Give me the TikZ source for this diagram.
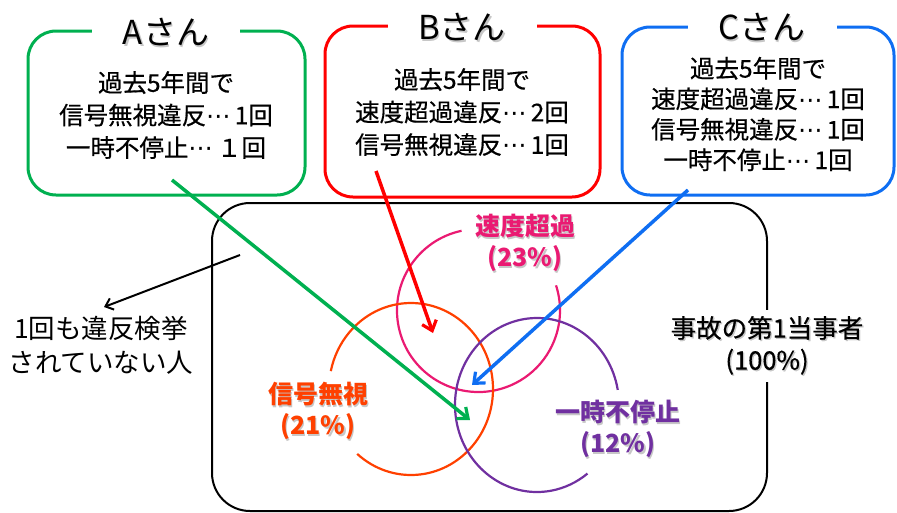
\documentclass[tikz,border=0pt]{standalone}
\usepackage{fontspec}
\setmainfont{Noto Sans CJK JP}
\newfontfamily\dvfont{DejaVu Sans}
\newfontfamily\jpm{Noto Sans CJK JP}[FakeBold=0.5]
\usetikzlibrary{arrows.meta,calc}
\definecolor{cgreen}{HTML}{00B050}
\definecolor{cred}{HTML}{FF0000}
\definecolor{cblue}{HTML}{0F6EF2}
\definecolor{cpink}{HTML}{EA1A72}
\definecolor{corange}{HTML}{FF4000}
\definecolor{cpurple}{HTML}{7030A0}
\newcommand\shd[1]{\leavevmode\rlap{\kern1.3pt\raisebox{-1.3pt}{\textcolor{black!22}{#1}}}#1}
\newcommand\dts{{\dvfont ⋯}}
\tikzset{
  pbox/.style={draw, line width=3pt, rounded corners=28pt},
  ptitle/.style={fill=white, inner sep=0pt, minimum height=14pt, font=\fontsize{33pt}{36pt}\selectfont},
  btext/.style={align=center, inner sep=0pt, font=\jpm\fontsize{24.5pt}{32.5pt}\selectfont},
  vlab/.style={align=center, inner sep=0pt, font=\bfseries\fontsize{25pt}{31pt}\selectfont},
  venn/.style={line width=2.2pt},
  arr/.style={line width=3.5pt, -{Straight Barb[length=9pt,width=15pt,line width=3.2pt]}},
}
\begin{document}
\begin{tikzpicture}[x=1pt,y=-1pt]
\useasboundingbox (0,0) rectangle (897,512);
% big frame
\node[draw, line width=2pt, rounded corners=38pt, minimum width=555pt, minimum height=308pt] (all) at (489.5,357) {};
\node[fill=white, align=center, inner sep=6pt, font=\jpm\fontsize{25.5pt}{32pt}\selectfont] (lab100) at (767,346) {\shd{事故の第1当事者}\\\shd{(100\%)}};
% person boxes
\node[pbox, draw=cgreen, minimum width=277pt, minimum height=164pt] (boxA) at (166.5,113) {};
\node[pbox, draw=cred, minimum width=275pt, minimum height=171pt] (boxB) at (462.5,111.5) {};
\node[pbox, draw=cblue, minimum width=272pt, minimum height=168pt] (boxC) at (758,111) {};
\node[ptitle, minimum width=148pt] (tA) at (166,33) {\shd{Aさん}};
\node[ptitle, minimum width=149pt] (tB) at (462,28) {\shd{Bさん}};
\node[ptitle, minimum width=149pt] (tC) at (762,28) {\shd{Cさん}};
\node[btext] (txA) at (166,115) {過去5年間で\\信号無視違反\dts\,1回\\一時不停止\dts\,１回};
\node[btext] (txB) at (462,112) {過去5年間で\\速度超過違反\dts\,2回\\信号無視違反\dts\,1回};
\node[btext, font=\jpm\fontsize{24.5pt}{30.5pt}\selectfont] (txC) at (758,114) {過去5年間で\\速度超過違反\dts\,1回\\信号無視違反\dts\,1回\\一時不停止\dts\,1回};
% venn circles
\coordinate (cS) at (478.5,310.5);
\coordinate (cO) at (411,389);
\coordinate (cP) at (537,405);
\draw[venn, cpink] ($(cS)+({81.5*cos(-102)},{81.5*sin(-102)})$) arc[start angle=-102, end angle=-378, radius=81.5];
\draw[venn, corange] ($(cO)+({82*cos(-229)},{86*sin(-229)})$) arc[start angle=-229, end angle=-528, x radius=82, y radius=86];
\draw[venn, cpurple] ($(cP)+({82*cos(-10)},{87*sin(-10)})$) arc[start angle=-10, end angle=-308, x radius=82, y radius=87];
\node[vlab, text=cpink] (lS) at (525,244) {\shd{速度超過}\\\shd{(23\%)}};
\node[vlab, text=corange] (lO) at (318,412) {\shd{信号無視}\\\shd{(21\%)}};
\node[vlab, text=cpurple] (lP) at (618,430) {\shd{一時不停止}\\\shd{(12\%)}};
% left label
\node[align=center, inner sep=0pt, font=\fontsize{26.5pt}{34pt}\selectfont] (lNone) at (101,345) {1回も違反検挙\\されていない人};
% arrows
\coordinate (aS) at (172,180);
\coordinate (aE) at (470,420);
\coordinate (bS) at (376,171);
\coordinate (bE) at (433,333);
\coordinate (cSt) at (688,190);
\coordinate (cE) at (472,385);
\coordinate (nS) at (240,255);
\coordinate (nE) at (104,307);
\draw[arr, cgreen] (aS) -- (aE);
\draw[arr, cred] (bS) -- (bE);
\draw[arr, cblue] (cSt) -- (cE);
\draw[line width=2pt, -{Straight Barb[length=7pt,width=12pt,line width=2pt]}] (nS) -- (nE);
\end{tikzpicture}
\end{document}
